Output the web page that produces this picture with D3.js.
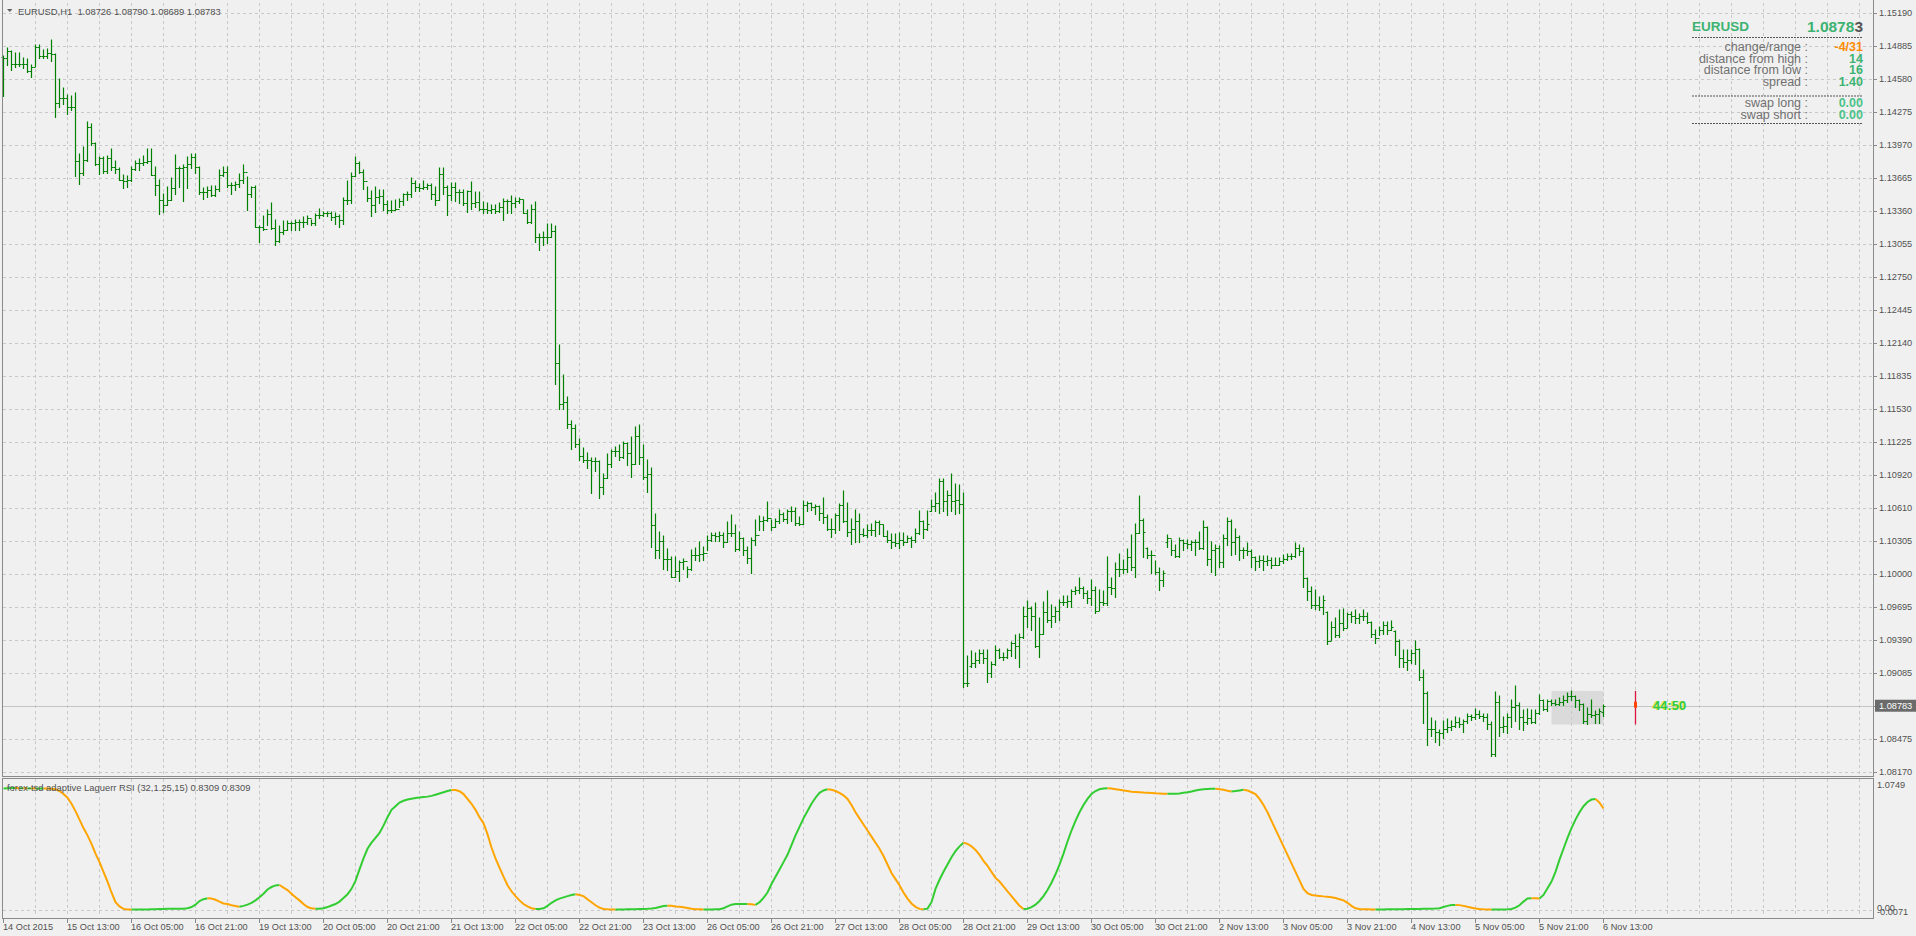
<!DOCTYPE html>
<html>
<head>
<meta charset="utf-8">
<script src="https://cdn.jsdelivr.net/npm/d3@7"></script>
<style>
  body { margin: 0; background: #f0f0f0; }
  svg text { font-family: "Liberation Sans", Arial, sans-serif; }
</style>
</head>
<body>
<svg id="chart"></svg>
<script>
// EURUSD H1, 14 Oct 2015 21:00 .. 6 Nov 2015 13:00 (401 bars)
var opens = [
1.1478,1.1477,1.1484,1.1472,1.1472,1.1472,1.1472,1.1465,1.1469,1.1488,
1.1479,1.1479,1.1482,1.1481,1.1436,1.1440,1.1440,1.1432,1.1432,1.1382,
1.1371,1.1383,1.1414,1.1399,1.1379,1.1385,1.1373,1.1385,1.1377,1.1375,
1.1365,1.1364,1.1365,1.1375,1.1380,1.1380,1.1381,1.1382,1.1369,1.1360,
1.1346,1.1341,1.1346,1.1357,1.1376,1.1376,1.1377,1.1379,1.1386,1.1377,
1.1353,1.1353,1.1355,1.1351,1.1356,1.1369,1.1372,1.1360,1.1360,1.1361,
1.1365,1.1372,1.1352,1.1358,1.1321,1.1321,1.1319,1.1333,1.1320,1.1308,
1.1316,1.1318,1.1325,1.1325,1.1326,1.1326,1.1326,1.1329,1.1325,1.1332,
1.1332,1.1334,1.1334,1.1330,1.1331,1.1328,1.1346,1.1346,1.1368,1.1380,
1.1372,1.1364,1.1348,1.1341,1.1349,1.1350,1.1342,1.1337,1.1337,1.1338,
1.1345,1.1352,1.1352,1.1362,1.1358,1.1357,1.1358,1.1360,1.1352,1.1346,
1.1370,1.1358,1.1351,1.1358,1.1353,1.1353,1.1343,1.1354,1.1343,1.1344,
1.1338,1.1338,1.1337,1.1338,1.1336,1.1340,1.1345,1.1345,1.1343,1.1345,
1.1347,1.1334,1.1326,1.1338,1.1312,1.1312,1.1312,1.1312,1.1317,1.1195,
1.1157,1.1159,1.1139,1.1135,1.1120,1.1109,1.1106,1.1106,1.1105,1.1105,
1.1081,1.1089,1.1102,1.1114,1.1114,1.1108,1.1121,1.1112,1.1102,1.1128,
1.1108,1.1090,1.1093,1.1045,1.1022,1.1031,1.1014,1.1014,1.0997,1.1003,
1.1011,1.1012,1.1005,1.1018,1.1018,1.1019,1.1020,1.1032,1.1036,1.1035,
1.1036,1.1030,1.1038,1.1038,1.1023,1.1033,1.1022,1.1015,1.1032,1.1036,
1.1049,1.1050,1.1052,1.1044,1.1049,1.1056,1.1051,1.1058,1.1058,1.1047,
1.1046,1.1064,1.1066,1.1062,1.1063,1.1057,1.1053,1.1042,1.1042,1.1055,
1.1064,1.1049,1.1039,1.1042,1.1049,1.1037,1.1036,1.1041,1.1041,1.1048,
1.1046,1.1035,1.1032,1.1030,1.1029,1.1032,1.1030,1.1033,1.1032,1.1038,
1.1049,1.1042,1.1058,1.1063,1.1066,1.1086,1.1068,1.1073,1.1068,1.1069,
1.1065,1.0899,1.0915,1.0918,1.0921,1.0927,1.0922,1.0909,1.0917,1.0930,
1.0923,1.0923,1.0930,1.0936,1.0934,1.0942,1.0961,1.0969,1.0961,1.0934,
1.0945,1.0965,1.0958,1.0961,1.0966,1.0974,1.0974,1.0975,1.0984,1.0985,
1.0987,1.0983,1.0978,1.0985,1.0966,1.0974,1.0973,1.0988,1.0987,1.1005,
1.1005,1.1005,1.1016,1.1007,1.1038,1.1050,1.1024,1.1018,1.1018,1.1002,
1.0995,1.1030,1.1033,1.1022,1.1017,1.1032,1.1029,1.1028,1.1030,1.1030,
1.1024,1.1044,1.1014,1.1022,1.1024,1.1011,1.1033,1.1049,1.1030,1.1034,
1.1022,1.1022,1.1021,1.1016,1.1012,1.1013,1.1012,1.1013,1.1008,1.1008,
1.1012,1.1014,1.1017,1.1017,1.1024,1.1021,1.0996,1.0984,1.0971,1.0971,
1.0970,1.0965,1.0938,1.0951,1.0944,1.0955,1.0950,1.0963,1.0961,1.0959,
1.0961,1.0961,1.0956,1.0945,1.0941,1.0948,1.0953,1.0948,1.0947,1.0938,
1.0922,1.0919,1.0921,1.0927,1.0931,1.0905,1.0890,1.0857,1.0857,1.0854,
1.0853,1.0857,1.0859,1.0860,1.0863,1.0861,1.0864,1.0869,1.0868,1.0871,
1.0869,1.0868,1.0861,1.0834,1.0882,1.0859,1.0860,1.0868,1.0877,1.0879,
1.0868,1.0863,1.0867,1.0863,1.0872,1.0884,1.0875,1.0883,1.0881,1.0880,
1.0882,1.0884,1.0887,1.0887,1.0884,1.0880,1.0864,1.0871,1.0870,1.0871,
1.08726
];
var highs = [
1.1479,1.1487,1.1484,1.1482,1.1482,1.1477,1.1476,1.1471,1.1489,1.1489,
1.1485,1.1486,1.1494,1.1481,1.1458,1.1450,1.1443,1.1442,1.1445,1.1389,
1.1395,1.1418,1.1416,1.1399,1.1386,1.1386,1.1387,1.1393,1.1382,1.1376,
1.1369,1.1368,1.1377,1.1382,1.1384,1.1387,1.1393,1.1393,1.1377,1.1365,
1.1352,1.1358,1.1366,1.1388,1.1377,1.1378,1.1386,1.1389,1.1389,1.1377,
1.1357,1.1358,1.1359,1.1359,1.1374,1.1377,1.1377,1.1362,1.1363,1.1370,
1.1378,1.1367,1.1358,1.1359,1.1322,1.1331,1.1337,1.1343,1.1328,1.1322,
1.1327,1.1327,1.1326,1.1328,1.1328,1.1330,1.1331,1.1328,1.1333,1.1338,
1.1335,1.1335,1.1335,1.1334,1.1332,1.1348,1.1364,1.1371,1.1386,1.1381,
1.1374,1.1358,1.1354,1.1358,1.1355,1.1355,1.1345,1.1345,1.1346,1.1347,
1.1352,1.1353,1.1366,1.1364,1.1361,1.1364,1.1361,1.1361,1.1358,1.1376,
1.1376,1.1359,1.1362,1.1362,1.1355,1.1355,1.1354,1.1363,1.1353,1.1353,
1.1344,1.1343,1.1341,1.1341,1.1343,1.1347,1.1346,1.1350,1.1348,1.1348,
1.1346,1.1337,1.1341,1.1344,1.1315,1.1316,1.1324,1.1324,1.1322,1.1212,
1.1184,1.1164,1.1142,1.1138,1.1125,1.1117,1.1112,1.1107,1.1107,1.1105,
1.1093,1.1111,1.1115,1.1118,1.1119,1.1122,1.1121,1.1127,1.1136,1.1138,
1.1119,1.1106,1.1098,1.1056,1.1039,1.1035,1.1023,1.1016,1.1016,1.1012,
1.1014,1.1007,1.1022,1.1024,1.1030,1.1025,1.1035,1.1038,1.1038,1.1039,
1.1038,1.1048,1.1055,1.1045,1.1039,1.1033,1.1025,1.1033,1.1050,1.1054,
1.1053,1.1067,1.1050,1.1051,1.1059,1.1057,1.1059,1.1062,1.1061,1.1053,
1.1068,1.1067,1.1066,1.1064,1.1063,1.1070,1.1055,1.1051,1.1056,1.1065,
1.1077,1.1066,1.1051,1.1059,1.1056,1.1042,1.1045,1.1046,1.1049,1.1049,
1.1045,1.1040,1.1037,1.1037,1.1038,1.1038,1.1035,1.1034,1.1042,1.1058,
1.1049,1.1058,1.1069,1.1075,1.1088,1.1088,1.1077,1.1093,1.1083,1.1082,
1.1075,1.0924,1.0929,1.0927,1.0930,1.0930,1.0930,1.0919,1.0934,1.0931,
1.0927,1.0931,1.0937,1.0944,1.0945,1.0970,1.0975,1.0970,1.0973,1.0959,
1.0974,1.0984,1.0971,1.0970,1.0976,1.0980,1.0980,1.0985,1.0988,1.0996,
1.0988,1.0984,1.0995,1.0988,1.0985,1.0984,1.1016,1.0996,1.1010,1.1019,
1.1013,1.1023,1.1036,1.1046,1.1072,1.1051,1.1024,1.1021,1.1012,1.1006,
1.1003,1.1036,1.1032,1.1027,1.1033,1.1032,1.1032,1.1031,1.1032,1.1039,
1.1049,1.1044,1.1030,1.1027,1.1026,1.1036,1.1052,1.1050,1.1042,1.1035,
1.1024,1.1029,1.1022,1.1016,1.1017,1.1017,1.1017,1.1015,1.1015,1.1015,
1.1018,1.1019,1.1019,1.1029,1.1027,1.1024,1.0996,1.0988,1.0985,1.0979,
1.0980,1.0965,1.0956,1.0959,1.0967,1.0968,1.0964,1.0965,1.0967,1.0963,
1.0967,1.0964,1.0956,1.0948,1.0951,1.0956,1.0956,1.0957,1.0947,1.0939,
1.0930,1.0930,1.0930,1.0938,1.0931,1.0911,1.0891,1.0867,1.0864,1.0856,
1.0864,1.0866,1.0864,1.0868,1.0867,1.0865,1.0871,1.0870,1.0875,1.0873,
1.0871,1.0871,1.0863,1.0891,1.0887,1.0868,1.0871,1.0884,1.0897,1.0881,
1.0874,1.0875,1.0874,1.0874,1.0888,1.0884,1.0884,1.0884,1.0884,1.0885,
1.0887,1.0890,1.0892,1.0887,1.0884,1.0880,1.0876,1.0884,1.0873,1.0875,
1.08790
];
var lows = [
1.1442,1.1471,1.1466,1.1469,1.1470,1.1468,1.1464,1.1460,1.1470,1.1477,
1.1477,1.1477,1.1475,1.1423,1.1432,1.1435,1.1426,1.1429,1.1368,1.1361,
1.1369,1.1382,1.1397,1.1378,1.1370,1.1371,1.1371,1.1374,1.1371,1.1365,
1.1357,1.1358,1.1364,1.1374,1.1374,1.1378,1.1380,1.1369,1.1351,1.1333,
1.1335,1.1341,1.1346,1.1352,1.1358,1.1345,1.1357,1.1376,1.1371,1.1352,
1.1347,1.1349,1.1350,1.1350,1.1354,1.1368,1.1358,1.1352,1.1355,1.1358,
1.1362,1.1337,1.1349,1.1321,1.1307,1.1318,1.1323,1.1319,1.1304,1.1307,
1.1315,1.1318,1.1318,1.1318,1.1318,1.1321,1.1324,1.1323,1.1323,1.1329,
1.1331,1.1331,1.1328,1.1324,1.1321,1.1324,1.1342,1.1343,1.1368,1.1371,
1.1356,1.1345,1.1331,1.1335,1.1343,1.1337,1.1334,1.1335,1.1337,1.1340,
1.1341,1.1346,1.1349,1.1354,1.1354,1.1356,1.1356,1.1347,1.1341,1.1346,
1.1352,1.1332,1.1346,1.1345,1.1343,1.1341,1.1335,1.1338,1.1340,1.1337,
1.1334,1.1334,1.1334,1.1334,1.1335,1.1328,1.1334,1.1334,1.1340,1.1343,
1.1334,1.1325,1.1325,1.1307,1.1300,1.1304,1.1306,1.1312,1.1176,1.1153,
1.1153,1.1135,1.1116,1.1118,1.1106,1.1104,1.1098,1.1075,1.1095,1.1070,
1.1074,1.1089,1.1099,1.1109,1.1106,1.1107,1.1101,1.1090,1.1102,1.1102,
1.1088,1.1076,1.1025,1.1015,1.1015,1.1005,1.1004,1.0997,1.0997,1.0994,
1.1005,1.0997,1.1004,1.1013,1.1012,1.1013,1.1022,1.1031,1.1031,1.1031,
1.1025,1.1030,1.1035,1.1021,1.1022,1.1018,1.1010,1.1001,1.1027,1.1041,
1.1041,1.1049,1.1041,1.1044,1.1047,1.1049,1.1047,1.1049,1.1045,1.1045,
1.1046,1.1058,1.1059,1.1056,1.1050,1.1047,1.1041,1.1034,1.1038,1.1041,
1.1048,1.1035,1.1028,1.1030,1.1030,1.1035,1.1034,1.1036,1.1035,1.1037,
1.1035,1.1030,1.1024,1.1026,1.1024,1.1027,1.1030,1.1025,1.1030,1.1037,
1.1033,1.1041,1.1058,1.1058,1.1057,1.1058,1.1055,1.1058,1.1056,1.1057,
1.0896,1.0897,1.0914,1.0914,1.0918,1.0918,1.0900,1.0905,1.0916,1.0922,
1.0921,1.0922,1.0924,1.0922,1.0914,1.0941,1.0951,1.0948,1.0933,1.0923,
1.0945,1.0956,1.0951,1.0956,1.0958,1.0971,1.0970,1.0970,1.0982,1.0983,
1.0978,1.0973,1.0971,1.0964,1.0967,1.0971,1.0971,1.0982,1.0979,1.0998,
1.1001,1.1002,1.1004,1.0997,1.1038,1.1016,1.1015,1.1001,1.1000,1.0985,
1.0989,1.1025,1.1018,1.1016,1.1016,1.1022,1.1024,1.1022,1.1018,1.1023,
1.1023,1.1008,1.1002,1.0999,1.1007,1.1007,1.1027,1.1018,1.1019,1.1013,
1.1015,1.1018,1.1007,1.1004,1.1007,1.1004,1.1008,1.1006,1.1008,1.1008,
1.1010,1.1013,1.1014,1.1016,1.1018,1.0988,1.0976,1.0969,1.0968,1.0967,
1.0963,1.0935,1.0939,1.0942,1.0942,1.0948,1.0951,1.0956,1.0955,1.0955,
1.0958,1.0955,1.0942,1.0936,1.0944,1.0945,1.0945,1.0948,1.0925,1.0914,
1.0914,1.0911,1.0918,1.0917,1.0902,1.0862,1.0842,1.0850,1.0845,1.0842,
1.0848,1.0854,1.0856,1.0859,1.0859,1.0854,1.0862,1.0865,1.0866,1.0867,
1.0864,1.0857,1.0832,1.0832,1.0850,1.0854,1.0853,1.0859,1.0864,1.0857,
1.0856,1.0861,1.0862,1.0862,1.0871,1.0874,1.0873,1.0879,1.0879,1.0879,
1.0879,1.0882,1.0884,1.0877,1.0874,1.0862,1.0861,1.0868,1.0862,1.0862,
1.08689
];
var closes = [
1.1477,1.1484,1.1472,1.1472,1.1472,1.1472,1.1465,1.1469,1.1488,1.1479,
1.1479,1.1482,1.1481,1.1436,1.1440,1.1440,1.1432,1.1432,1.1382,1.1371,
1.1383,1.1414,1.1399,1.1379,1.1385,1.1373,1.1385,1.1377,1.1375,1.1365,
1.1364,1.1365,1.1375,1.1380,1.1380,1.1381,1.1382,1.1369,1.1360,1.1346,
1.1341,1.1346,1.1357,1.1376,1.1376,1.1377,1.1379,1.1386,1.1377,1.1353,
1.1353,1.1355,1.1351,1.1356,1.1369,1.1372,1.1360,1.1360,1.1361,1.1365,
1.1372,1.1352,1.1358,1.1321,1.1321,1.1319,1.1333,1.1320,1.1308,1.1316,
1.1318,1.1325,1.1325,1.1326,1.1326,1.1326,1.1329,1.1325,1.1332,1.1332,
1.1334,1.1334,1.1330,1.1331,1.1328,1.1346,1.1346,1.1368,1.1380,1.1372,
1.1364,1.1348,1.1341,1.1349,1.1350,1.1342,1.1337,1.1337,1.1338,1.1345,
1.1352,1.1352,1.1362,1.1358,1.1357,1.1358,1.1360,1.1352,1.1346,1.1370,
1.1358,1.1351,1.1358,1.1353,1.1353,1.1343,1.1354,1.1343,1.1344,1.1338,
1.1338,1.1337,1.1338,1.1336,1.1340,1.1345,1.1345,1.1343,1.1345,1.1347,
1.1334,1.1326,1.1338,1.1312,1.1312,1.1312,1.1312,1.1317,1.1195,1.1157,
1.1159,1.1139,1.1135,1.1120,1.1109,1.1106,1.1106,1.1105,1.1105,1.1081,
1.1089,1.1102,1.1114,1.1114,1.1108,1.1121,1.1112,1.1102,1.1128,1.1108,
1.1090,1.1093,1.1045,1.1022,1.1031,1.1014,1.1014,1.0997,1.1003,1.1011,
1.1012,1.1005,1.1018,1.1018,1.1019,1.1020,1.1032,1.1036,1.1035,1.1036,
1.1030,1.1038,1.1038,1.1023,1.1033,1.1022,1.1015,1.1032,1.1036,1.1049,
1.1050,1.1052,1.1044,1.1049,1.1056,1.1051,1.1058,1.1058,1.1047,1.1046,
1.1064,1.1066,1.1062,1.1063,1.1057,1.1053,1.1042,1.1042,1.1055,1.1064,
1.1049,1.1039,1.1042,1.1049,1.1037,1.1036,1.1041,1.1041,1.1048,1.1046,
1.1035,1.1032,1.1030,1.1029,1.1032,1.1030,1.1033,1.1032,1.1038,1.1049,
1.1042,1.1046,1.1063,1.1066,1.1086,1.1068,1.1073,1.1068,1.1069,1.1065,
1.0899,1.0899,1.0918,1.0921,1.0927,1.0922,1.0909,1.0917,1.0930,1.0923,
1.0923,1.0930,1.0936,1.0934,1.0942,1.0961,1.0969,1.0961,1.0934,1.0945,
1.0965,1.0958,1.0961,1.0966,1.0974,1.0974,1.0975,1.0984,1.0985,1.0987,
1.0983,1.0978,1.0985,1.0966,1.0974,1.0973,1.0988,1.0987,1.1005,1.1005,
1.1005,1.1016,1.1007,1.1038,1.1050,1.1039,1.1018,1.1018,1.1002,1.0995,
1.1001,1.1033,1.1022,1.1017,1.1032,1.1029,1.1028,1.1030,1.1030,1.1024,
1.1044,1.1014,1.1022,1.1024,1.1011,1.1033,1.1049,1.1030,1.1034,1.1022,
1.1022,1.1021,1.1016,1.1012,1.1013,1.1012,1.1013,1.1008,1.1008,1.1012,
1.1014,1.1017,1.1017,1.1024,1.1021,1.0996,1.0984,1.0971,1.0971,1.0970,
1.0976,1.0938,1.0951,1.0944,1.0955,1.0950,1.0963,1.0961,1.0959,1.0961,
1.0961,1.0956,1.0945,1.0941,1.0948,1.0953,1.0948,1.0951,1.0938,1.0922,
1.0919,1.0921,1.0927,1.0931,1.0905,1.0890,1.0857,1.0857,1.0854,1.0853,
1.0857,1.0859,1.0860,1.0863,1.0861,1.0864,1.0869,1.0868,1.0871,1.0869,
1.0868,1.0861,1.0834,1.0882,1.0859,1.0860,1.0868,1.0877,1.0879,1.0868,
1.0863,1.0867,1.0863,1.0872,1.0884,1.0875,1.0883,1.0881,1.0880,1.0882,
1.0884,1.0887,1.0887,1.0884,1.0880,1.0864,1.0871,1.0870,1.0871,1.0873,
1.08783
];
// forex-tsd adaptive Laguerre RSI, one value per bar
var rsi = [
0.995,0.997,0.999,0.999,0.998,0.998,0.997,0.997,0.996,0.996,
0.996,0.995,0.993,0.99,0.975,0.95,0.92,0.87,0.81,0.74,
0.67,0.61,0.54,0.46,0.39,0.31,0.23,0.14,0.06,0.025,
0.005,0.001,0,0,0,0,0.001,0.002,0.003,0.004,
0.005,0.006,0.006,0.007,0.007,0.007,0.01,0.02,0.04,0.07,
0.085,0.092,0.09,0.08,0.065,0.05,0.045,0.035,0.028,0.023,
0.03,0.04,0.055,0.075,0.1,0.13,0.165,0.185,0.198,0.202,
0.18,0.16,0.13,0.1,0.075,0.045,0.02,0.01,0.006,0.006,
0.01,0.02,0.033,0.045,0.065,0.095,0.125,0.17,0.235,0.33,
0.42,0.5,0.55,0.59,0.63,0.69,0.76,0.82,0.85,0.88,
0.895,0.905,0.912,0.917,0.921,0.925,0.929,0.935,0.945,0.955,
0.965,0.975,0.984,0.983,0.973,0.95,0.91,0.87,0.82,0.76,
0.71,0.62,0.51,0.42,0.345,0.27,0.2,0.15,0.11,0.075,
0.045,0.025,0.01,0.004,0.005,0.01,0.03,0.055,0.075,0.09,
0.1,0.11,0.12,0.125,0.12,0.11,0.085,0.06,0.035,0.015,
0.004,0.002,0.001,0,0,0.001,0.002,0.003,0.003,0.004,
0.005,0.006,0.008,0.012,0.02,0.028,0.031,0.03,0.025,0.022,
0.018,0.012,0.006,0.003,0.002,0.001,0.001,0.001,0.002,0.003,
0.01,0.025,0.04,0.045,0.046,0.046,0.046,0.043,0.038,0.06,
0.095,0.14,0.21,0.27,0.33,0.39,0.45,0.53,0.61,0.68,
0.75,0.81,0.87,0.92,0.96,0.98,0.99,0.985,0.975,0.96,
0.94,0.91,0.86,0.8,0.75,0.7,0.65,0.6,0.55,0.5,
0.44,0.37,0.3,0.25,0.2,0.14,0.09,0.05,0.022,0.005,
0.002,0.007,0.06,0.17,0.245,0.31,0.37,0.43,0.48,0.52,
0.55,0.54,0.52,0.49,0.45,0.4,0.36,0.31,0.26,0.23,
0.19,0.15,0.11,0.07,0.03,0.004,0.006,0.02,0.04,0.07,
0.11,0.16,0.22,0.29,0.37,0.46,0.56,0.65,0.73,0.8,
0.86,0.91,0.95,0.975,0.99,0.995,0.997,0.995,0.99,0.985,
0.98,0.975,0.97,0.968,0.965,0.962,0.96,0.958,0.956,0.955,
0.953,0.952,0.952,0.953,0.955,0.96,0.965,0.972,0.98,0.985,
0.99,0.992,0.993,0.993,0.99,0.985,0.978,0.972,0.975,0.98,
0.985,0.98,0.965,0.95,0.91,0.86,0.8,0.73,0.66,0.59,
0.52,0.45,0.38,0.31,0.24,0.17,0.135,0.12,0.115,0.112,
0.108,0.105,0.1,0.095,0.085,0.075,0.055,0.03,0.01,0.004,
0.003,0.002,0.001,0,0.0005,0.001,0.0015,0.002,0.0025,0.003,
0.003,0.004,0.004,0.005,0.005,0.006,0.006,0.007,0.008,0.01,
0.02,0.03,0.037,0.038,0.036,0.03,0.022,0.015,0.008,0.004,
0.002,0.001,0,0,0.0005,0.001,0.002,0.005,0.015,0.035,
0.065,0.09,0.093,0.092,0.09,0.12,0.175,0.23,0.31,0.41,
0.5,0.59,0.67,0.74,0.8,0.85,0.885,0.905,0.91,0.88,
0.8309
];

var timeLabels = ["14 Oct 2015","15 Oct 13:00","16 Oct 05:00","16 Oct 21:00","19 Oct 13:00",
  "20 Oct 05:00","20 Oct 21:00","21 Oct 13:00","22 Oct 05:00","22 Oct 21:00","23 Oct 13:00",
  "26 Oct 05:00","26 Oct 21:00","27 Oct 13:00","28 Oct 05:00","28 Oct 21:00","29 Oct 13:00",
  "30 Oct 05:00","30 Oct 21:00","2 Nov 13:00","3 Nov 05:00","3 Nov 21:00","4 Nov 13:00",
  "5 Nov 05:00","5 Nov 21:00","6 Nov 13:00"];
var priceTicks = [1.15190,1.14885,1.14580,1.14275,1.13970,1.13665,1.13360,1.13055,1.12750,
  1.12445,1.12140,1.11835,1.11530,1.11225,1.10920,1.10610,1.10305,1.10000,1.09695,1.09390,
  1.09085,1.08780,1.08475,1.08170];

var infoLabels = ["change/range :", "distance from high :", "distance from low :", "spread :"];
var infoValues = ["-4/31", "14", "16", "1.40"];
var swapLabels = ["swap long :", "swap short :"];
var swapValues = ["0.00", "0.00"];

var W = 1916, H = 936;
var left = 2, right = 1873, mainBottom = 776, indTop = 778, indBottom = 918;
var green = "#008000", gridColor = "#c8c8c8", frameColor = "#8a8a8a", textColor = "#505050";

var svg = d3.select("#chart").attr("width", W).attr("height", H);
svg.append("rect").attr("width", W).attr("height", H).attr("fill", "#f0f0f0");

var x = d3.scaleLinear().domain([0, 400]).range([3.5, 1603.5]);
var y = d3.scaleLinear().domain([1.08170, 1.15190]).range([772, 13]);
var yi = d3.scaleLinear().domain([0, 1]).range([909.5, 788]);
function py(v) { return Math.round(y(v)) + 0.5; }

var last = closes.length - 1;

// range box over the last 14 bars
var boxFrom = last - 13;
var boxHi = d3.max(highs.slice(boxFrom)), boxLo = d3.min(lows.slice(boxFrom));
svg.append("rect")
  .attr("x", x(boxFrom)).attr("y", y(boxHi))
  .attr("width", x(last) - x(boxFrom)).attr("height", y(boxLo) - y(boxHi))
  .attr("fill", "#dadada");

// grid
var grid = svg.append("g").attr("stroke", gridColor).attr("stroke-dasharray", "3,3").attr("shape-rendering", "crispEdges");
d3.range(8, 465, 8).forEach(function(i) {
  grid.append("line").attr("x1", x(i)).attr("x2", x(i)).attr("y1", 3).attr("y2", mainBottom - 1);
  grid.append("line").attr("x1", x(i)).attr("x2", x(i)).attr("y1", indTop + 1).attr("y2", indBottom - 1);
});
priceTicks.forEach(function(v) {
  grid.append("line").attr("x1", left + 1).attr("x2", right).attr("y1", py(v)).attr("y2", py(v));
});
grid.append("line").attr("x1", left + 1).attr("x2", right)
  .attr("y1", Math.round(yi(0)) + 0.5).attr("y2", Math.round(yi(0)) + 0.5);

// current price line
svg.append("line").attr("x1", left + 1).attr("x2", right)
  .attr("y1", py(closes[last])).attr("y2", py(closes[last]))
  .attr("stroke", "#c4c4c4").attr("shape-rendering", "crispEdges");

// OHLC bars
var bars = svg.append("g").attr("stroke", green).attr("stroke-width", 1.2).attr("fill", "none");
bars.selectAll("path").data(closes).enter().append("path")
  .attr("d", function(c, i) {
    var xx = x(i);
    return "M" + xx + "," + (Math.round(y(highs[i])) - 0.5) + "V" + (Math.round(y(lows[i])) + 1) +
      "M" + (xx - 2) + "," + py(opens[i]) + "H" + xx +
      "M" + xx + "," + py(c) + "H" + (xx + 2);
  });

// candle timer marker
var mx = x(last + 8);
svg.append("line").attr("x1", mx).attr("x2", mx).attr("y1", y(boxHi)).attr("y2", y(boxLo))
  .attr("stroke", "#dc143c").attr("stroke-width", 1.3);
svg.append("rect").attr("x", mx - 1.5).attr("y", y(closes[last]) - 4).attr("width", 3).attr("height", 6)
  .attr("fill", "#ff4500");
svg.append("text").attr("x", 1652).attr("y", y(closes[last]))
  .attr("dominant-baseline", "central").attr("font-size", 13).attr("font-weight", "bold")
  .attr("fill", "#e8e040").text("44:50");
svg.append("text").attr("x", 1653).attr("y", y(closes[last]))
  .attr("dominant-baseline", "central").attr("font-size", 13).attr("font-weight", "bold")
  .attr("fill", "#2ecc40").text("44:50");

// indicator line, coloured by direction
var segs = [];
for (var i = 1; i < rsi.length; i++) {
  var col = rsi[i] >= rsi[i - 1] ? "#32cd32" : "#ffa500";
  if (segs.length && segs[segs.length - 1].col === col) segs[segs.length - 1].pts.push(i);
  else segs.push({col: col, pts: [i - 1, i]});
}
var rline = d3.line().x(function(i) { return x(i); }).y(function(i) { return yi(rsi[i]); });
svg.append("g").attr("fill", "none").attr("stroke-width", 2)
  .selectAll("path").data(segs).enter().append("path")
  .attr("stroke", function(s) { return s.col; })
  .attr("d", function(s) { return rline(s.pts); });

// frames
var frame = svg.append("g").attr("stroke", frameColor).attr("fill", "none").attr("shape-rendering", "crispEdges");
frame.append("path").attr("d", "M" + (left + 0.5) + ",0V" + (mainBottom + 0.5) + "H" + (right + 0.5) + "V0");
frame.append("rect").attr("x", left + 0.5).attr("y", indTop + 0.5)
  .attr("width", right - left).attr("height", indBottom - indTop);

// price axis
var axis = svg.append("g").attr("font-size", 9.2).attr("fill", textColor);
priceTicks.forEach(function(v) {
  axis.append("line").attr("x1", right).attr("x2", right + 4).attr("y1", py(v)).attr("y2", py(v))
    .attr("stroke", frameColor).attr("shape-rendering", "crispEdges");
  if (Math.abs(v - closes[last]) > 0.0012) {
    axis.append("text").attr("x", right + 6).attr("y", y(v)).attr("dominant-baseline", "central").text(v.toFixed(5));
  }
});
svg.append("rect").attr("x", right + 2).attr("y", y(closes[last]) - 6).attr("width", W - right - 2).attr("height", 12)
  .attr("fill", "#6b6b6b");
svg.append("text").attr("x", right + 6).attr("y", y(closes[last])).attr("dominant-baseline", "central")
  .attr("font-size", 9.2).attr("fill", "#ffffff").text(closes[last].toFixed(5));

// indicator axis labels
axis.append("text").attr("x", right + 4).attr("y", yi(1.0749) + 6).attr("dominant-baseline", "central").text("1.0749");
axis.append("text").attr("x", right + 4).attr("y", yi(0) - 1.5).attr("dominant-baseline", "central").text("0.00");
axis.append("text").attr("x", right + 4).attr("y", yi(-0.0071) + 2).attr("dominant-baseline", "central").text("-0.0071");

// time axis
var taxis = svg.append("g").attr("font-size", 9.2).attr("fill", textColor);
timeLabels.forEach(function(t, k) {
  var tx = x(16 * k);
  taxis.append("line").attr("x1", tx).attr("x2", tx).attr("y1", indBottom).attr("y2", indBottom + 5)
    .attr("stroke", frameColor).attr("shape-rendering", "crispEdges");
  taxis.append("text").attr("x", tx - 0.5).attr("y", 927).attr("dominant-baseline", "central").text(t);
});

// titles
svg.append("path").attr("d", "M7,9L12.5,9L9.75,12Z").attr("fill", "#606060");
svg.append("text").attr("x", 18).attr("y", 11).attr("dominant-baseline", "central")
  .attr("font-size", 9.4).attr("fill", textColor).style("white-space", "pre")
  .text("EURUSD,H1  " + [opens[last], highs[last], lows[last], closes[last]].map(function(v) { return v.toFixed(5); }).join(" "));
svg.append("text").attr("x", 7).attr("y", 787).attr("dominant-baseline", "central")
  .attr("font-size", 9.4).attr("fill", textColor)
  .text("forex-tsd adaptive Laguerr RSI (32,1.25,15) " + rsi[last].toFixed(4) + " " + rsi[last].toFixed(4));

// info panel
var info = svg.append("g");
var pL = 1692, pR = 1863, colonX = 1808;
info.append("text").attr("x", pL).attr("y", 26).attr("dominant-baseline", "central")
  .attr("font-size", 13.5).attr("font-weight", "bold").attr("fill", "#3cb371").text("EURUSD");
var pt = info.append("text").attr("x", pR).attr("y", 26).attr("dominant-baseline", "central")
  .attr("text-anchor", "end").attr("font-size", 15.5).attr("font-weight", "bold");
var ps = closes[last].toFixed(5);
pt.append("tspan").attr("fill", "#3cb371").text(ps.slice(0, -1));
pt.append("tspan").attr("fill", "#555555").text(ps.slice(-1));
[37.5, 96, 123.5].forEach(function(ly) {
  info.append("line").attr("x1", pL).attr("x2", pR).attr("y1", ly).attr("y2", ly)
    .attr("stroke", "#555").attr("stroke-dasharray", "2,1");
});
infoLabels.forEach(function(t, k) {
  var ry = 47 + k * 11.7;
  info.append("text").attr("x", colonX).attr("y", ry).attr("dominant-baseline", "central")
    .attr("text-anchor", "end").attr("font-size", 12.5).attr("fill", "#707070").text(t);
  info.append("text").attr("x", pR).attr("y", ry).attr("dominant-baseline", "central")
    .attr("text-anchor", "end").attr("font-size", 12.5).attr("font-weight", "bold")
    .attr("fill", k === 0 ? "#ff8c00" : "#3cb371").text(infoValues[k]);
});
swapLabels.forEach(function(t, k) {
  var ry = 103 + k * 11.7;
  info.append("text").attr("x", colonX).attr("y", ry).attr("dominant-baseline", "central")
    .attr("text-anchor", "end").attr("font-size", 12.5).attr("fill", "#707070").text(t);
  info.append("text").attr("x", pR).attr("y", ry).attr("dominant-baseline", "central")
    .attr("text-anchor", "end").attr("font-size", 12.5).attr("font-weight", "bold")
    .attr("fill", "#4cc38a").text(swapValues[k]);
});
</script>
</body>
</html>
